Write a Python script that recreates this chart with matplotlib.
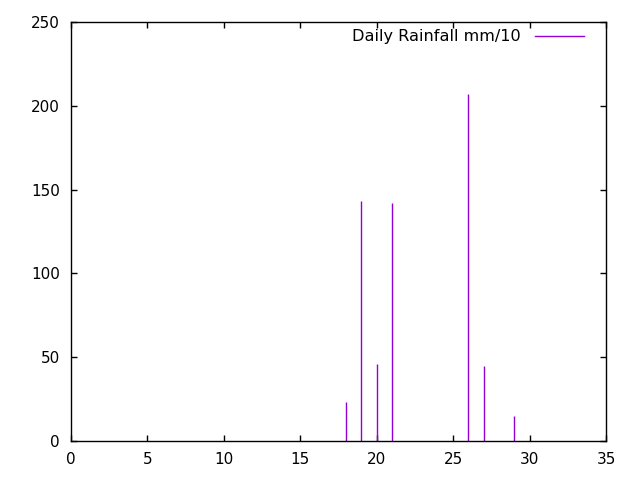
import matplotlib
matplotlib.use("Agg")
import matplotlib.pyplot as plt

days = [18, 19, 20, 21, 26, 27, 29]
rain = [23, 143, 46, 142, 207, 45, 15]
xticks = [0, 5, 10, 15, 20, 25, 30, 35]
yticks = [0, 50, 100, 150, 200, 250]
label = "Daily Rainfall mm/10"
color = "#9400D3"

fig = plt.figure(figsize=(6.4, 4.8), dpi=100)
ax = fig.add_axes([71/640, 39/480, 535/640, 419/480])
ax.vlines(days, 0, rain, colors=color, linewidth=1.0)
ax.set_xlim(0, 35)
ax.set_ylim(0, 250)
ax.set_xticks(xticks)
ax.set_yticks(yticks)
ax.tick_params(direction="in", length=4, width=1, top=True, right=True,
               labelsize=11, pad=8, colors="black")
for s in ax.spines.values():
    s.set_linewidth(1)
ax.plot([], [], color=color, linewidth=1.0, label=label)
leg = ax.legend(loc="upper right", frameon=False, fontsize=11.6, markerfirst=False,
                handlelength=3.0, handletextpad=0.9, borderaxespad=0.3,
                bbox_to_anchor=(1 - 11/535, 1 + 4/419))
fig.savefig("out.png", dpi=100)
